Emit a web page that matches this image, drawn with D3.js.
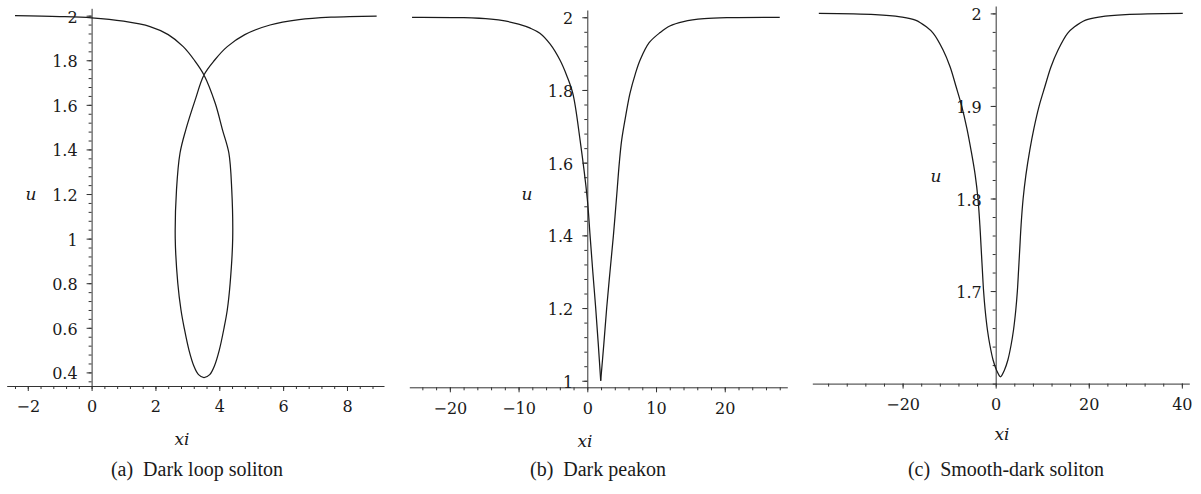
<!DOCTYPE html>
<html>
<head>
<meta charset="utf-8">
<script src="https://cdn.jsdelivr.net/npm/d3@7"></script>
<style>
  body { margin: 0; background: #fff; }
  svg { display: block; }
  .curve { fill: none; stroke: #1a1a1a; stroke-width: 1.25; }
  .axis path, .axis line { stroke: #333; stroke-width: 1; }
  .axis text { font-size: 16px; fill: #1a1a1a; font-family: "DejaVu Serif", serif; }
  .title { font-style: italic; font-size: 17px; fill: #1a1a1a; font-family: "DejaVu Serif", serif; }
  .caption { font-size: 20px; fill: #1a1a1a; font-family: "Liberation Serif", serif; }
</style>
</head>
<body>
<svg id="chart" width="1201" height="494"></svg>
<script>
// ---- data: [xi, u] ----

// (a) dark loop soliton, points in curve order (left tail -> loop -> right tail)
var loopPoints = [
  [-2.4, 2.0], [-1, 1.996], [0, 1.99], [1, 1.975], [1.83, 1.951], [2.4, 1.915],
  [2.87, 1.861], [3.22, 1.8], [3.52, 1.734], [3.87, 1.608], [4.1, 1.488], [4.3, 1.384],
  [4.39, 1.22], [4.42, 1.0], [4.34, 0.8], [4.25, 0.68], [4.15, 0.6], [4.0, 0.5],
  [3.85, 0.43], [3.7, 0.39], [3.52, 0.377], [3.35, 0.39], [3.2, 0.43], [3.05, 0.5],
  [2.9, 0.6], [2.8, 0.68], [2.7, 0.8], [2.62, 1.0], [2.66, 1.22], [2.77, 1.384],
  [2.95, 1.488], [3.24, 1.62], [3.52, 1.734], [3.85, 1.8], [4.25, 1.861], [4.8, 1.915],
  [5.59, 1.958], [6.5, 1.982], [7.5, 1.993], [8.93, 1.998]
];

// (b) dark peakon, two branches meeting at the peak
var peakonLeft = [
  [-25.5, 2.0], [-18, 1.999], [-14, 1.995], [-12, 1.99], [-10, 1.981], [-8.3, 1.97],
  [-6.9, 1.956], [-5.4, 1.926], [-4, 1.883], [-3, 1.84], [-2.1, 1.79], [-1.05, 1.662],
  [0, 1.5], [0.4, 1.4], [0.8, 1.3], [1.22, 1.2], [1.6, 1.1], [1.95, 1.0]
];
var peakonRight = [
  [1.95, 1.0], [2.4, 1.1], [2.82, 1.2], [3.3, 1.3], [3.8, 1.4], [4.3, 1.515], [4.66, 1.6],
  [5.0, 1.662], [5.6, 1.73], [6.2, 1.79], [7.0, 1.845], [7.7, 1.883], [9, 1.93],
  [10.6, 1.958], [12, 1.976], [14, 1.988], [17, 1.996], [21, 1.999], [28, 2.0]
];

// (c) smooth-dark soliton
var smoothPoints = [
  [-38, 2.0], [-25.9, 1.9987], [-20.5, 1.9963], [-17.25, 1.9928], [-14.9, 1.9855],
  [-13.4, 1.9784], [-11.3, 1.9604], [-9.8, 1.9423], [-8.5, 1.9207], [-7.3, 1.8999],
  [-6.2, 1.8761], [-5.3, 1.8523], [-4.4, 1.8253], [-3.8, 1.7994], [-3.4, 1.7713],
  [-3.1, 1.7443], [-2.86, 1.7227], [-2.6, 1.7], [-2.26, 1.6795], [-1.77, 1.6579],
  [-1.25, 1.6417], [-0.56, 1.6255], [0.17, 1.6147], [1.03, 1.6074], [1.89, 1.6147],
  [2.62, 1.6255], [3.31, 1.6417], [3.83, 1.6579], [4.32, 1.6795], [4.66, 1.7],
  [4.92, 1.7227], [5.16, 1.7443], [5.46, 1.7713], [5.89, 1.7994], [6.49, 1.8253],
  [7.33, 1.8523], [8.23, 1.8761], [9.33, 1.8999], [10.56, 1.9207], [11.89, 1.9423],
  [13.4, 1.9604], [15.44, 1.9784], [16.94, 1.9855], [19.31, 1.9928], [22.5, 1.9963],
  [27.9, 1.9987], [40.2, 2.0]
];

// view windows
var loopXDomain = [-2.66, 9.16],  loopYDomain = [0.339, 2.033];
var peakXDomain = [-25.9, 29.1],  peakYDomain = [0.982, 2.02];
var smoothXDomain = [-39.4, 41.6], smoothYDomain = [1.6, 2.008];

// tick labels
var loopXTicks = [-2, 0, 2, 4, 6, 8];
var loopYTicks = [0.4, 0.6, 0.8, 1, 1.2, 1.4, 1.6, 1.8, 2];
var peakXTicks = [-20, -10, 0, 10, 20];
var peakYTicks = [1, 1.2, 1.4, 1.6, 1.8, 2];
var smoothXTicks = [-20, 0, 20, 40];
var smoothYTicks = [1.7, 1.8, 1.9, 2];

var captions = ["(a)\u2002Dark loop soliton", "(b)\u2002Dark peakon", "(c)\u2002Smooth-dark soliton"];

// ---- layout ----
var panels = [
  { lines: [loopPoints],
    xDomain: loopXDomain, yDomain: loopYDomain, xTicks: loopXTicks, yTicks: loopYTicks,
    xStep: 0.4, yStep: 0.04,
    xRange: [6.7, 384], yRange: [386, 8.3],
    uPos: [31, 200], xiPos: [182, 445], capX: 197, caption: captions[0] },
  { lines: [peakonLeft, peakonRight],
    xDomain: peakXDomain, yDomain: peakYDomain, xTicks: peakXTicks, yTicks: peakYTicks,
    xStep: 2, yStep: 0.04,
    xRange: [409.3, 787.3], yRange: [387.3, 10],
    uPos: [527, 200], xiPos: [585, 447], capX: 598, caption: captions[1] },
  { lines: [smoothPoints],
    xDomain: smoothXDomain, yDomain: smoothYDomain, xTicks: smoothXTicks, yTicks: smoothYTicks,
    xStep: 4, yStep: 0.02,
    xRange: [812.3, 1189.3], yRange: [383.6, 6],
    uPos: [936, 182], xiPos: [1002, 440], capX: 1006, caption: captions[2] }
];

var svg = d3.select("#chart");
var fmt = d3.format("~g");

panels.forEach(function (p) {
  var x = d3.scaleLinear().domain(p.xDomain).range(p.xRange),
      y = d3.scaleLinear().domain(p.yDomain).range(p.yRange);

  var g = svg.append("g");

  // minor ticks (no labels)
  var xMinor = d3.range(Math.ceil(p.xDomain[0] / p.xStep) * p.xStep, p.xDomain[1], p.xStep);
  var yMinor = d3.range(Math.ceil(p.yDomain[0] / p.yStep) * p.yStep, p.yDomain[1], p.yStep);

  g.append("g")
    .attr("class", "axis")
    .attr("transform", "translate(0," + p.yRange[0] + ")")
    .call(d3.axisBottom(x).tickValues(xMinor).tickSize(3).tickSizeOuter(0).tickFormat(""))
    .select(".domain").remove();

  g.append("g")
    .attr("class", "axis")
    .attr("transform", "translate(" + x(0) + ",0)")
    .call(d3.axisLeft(y).tickValues(yMinor).tickSize(3).tickSizeOuter(0).tickFormat(""))
    .select(".domain").remove();

  // main axes
  g.append("g")
    .attr("class", "axis")
    .attr("transform", "translate(0," + p.yRange[0] + ")")
    .call(d3.axisBottom(x).tickValues(p.xTicks).tickSize(5).tickSizeOuter(0).tickPadding(10).tickFormat(fmt));

  g.append("g")
    .attr("class", "axis")
    .attr("transform", "translate(" + x(0) + ",0)")
    .call(d3.axisLeft(y).tickValues(p.yTicks).tickSize(5).tickSizeOuter(0).tickPadding(9).tickFormat(fmt))
    .selectAll("text").attr("dy", "0.41em");

  // curves
  var line = d3.line()
    .x(function (d) { return x(d[0]); })
    .y(function (d) { return y(d[1]); })
    .curve(d3.curveCatmullRom.alpha(0.5));

  p.lines.forEach(function (pts) {
    g.append("path")
      .datum(pts)
      .attr("class", "curve")
      .attr("d", line);
  });

  // axis titles + caption
  g.append("text").attr("class", "title")
    .attr("x", p.uPos[0]).attr("y", p.uPos[1])
    .attr("text-anchor", "middle").text("u");

  g.append("text").attr("class", "title")
    .attr("x", p.xiPos[0]).attr("y", p.xiPos[1])
    .attr("text-anchor", "middle").text("xi");

  g.append("text").attr("class", "caption")
    .attr("x", p.capX).attr("y", 476)
    .attr("text-anchor", "middle").text(p.caption);
});
</script>
</body>
</html>
